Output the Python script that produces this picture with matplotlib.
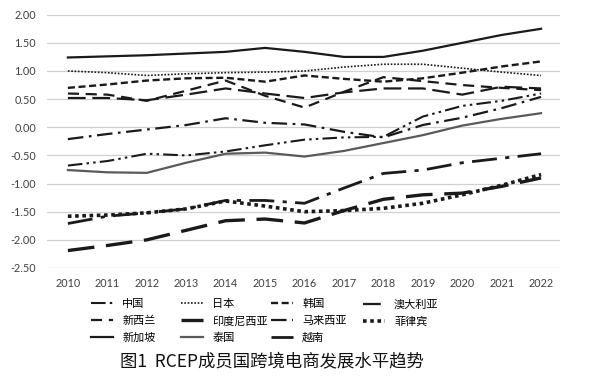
import matplotlib
matplotlib.use("Agg")
import matplotlib.pyplot as plt

plt.rcParams['font.family'] = ['Lato', 'Noto Sans CJK SC', 'DejaVu Sans']
plt.rcParams['axes.unicode_minus'] = False

years = list(range(2010, 2023))

# index values
china = [-0.68, -0.60, -0.47, -0.50, -0.43, -0.32, -0.22, -0.18, -0.17, 0.19, 0.38, 0.47, 0.60]
japan = [1.00, 0.97, 0.92, 0.95, 0.97, 0.98, 1.00, 1.07, 1.12, 1.12, 1.05, 0.98, 0.92]
korea = [0.70, 0.76, 0.83, 0.87, 0.88, 0.81, 0.92, 0.86, 0.81, 0.87, 0.97, 1.08, 1.17]
australia = [0.52, 0.52, 0.48, 0.58, 0.69, 0.60, 0.52, 0.62, 0.69, 0.69, 0.58, 0.72, 0.69]
new_zealand = [0.60, 0.58, 0.47, 0.65, 0.83, 0.56, 0.35, 0.63, 0.89, 0.82, 0.75, 0.70, 0.66]
indonesia = [-2.19, -2.10, -2.00, -1.83, -1.66, -1.63, -1.70, -1.48, -1.28, -1.20, -1.17, -1.05, -0.90]
malaysia = [-0.21, -0.12, -0.04, 0.04, 0.16, 0.08, 0.05, -0.08, -0.18, 0.04, 0.17, 0.34, 0.54]
philippines = [-1.58, -1.56, -1.52, -1.45, -1.31, -1.40, -1.50, -1.48, -1.44, -1.35, -1.20, -1.03, -0.84]
singapore = [1.24, 1.26, 1.28, 1.31, 1.34, 1.41, 1.34, 1.25, 1.25, 1.36, 1.50, 1.64, 1.75]
thailand = [-0.76, -0.80, -0.81, -0.63, -0.47, -0.45, -0.52, -0.42, -0.28, -0.14, 0.03, 0.15, 0.25]
vietnam = [-1.71, -1.58, -1.52, -1.45, -1.30, -1.30, -1.35, -1.08, -0.82, -0.76, -0.63, -0.55, -0.47]

y_ticks = [2.0, 1.5, 1.0, 0.5, 0.0, -0.5, -1.0, -1.5, -2.0, -2.5]

fig = plt.figure(figsize=(6.10, 3.79), dpi=100)
ax = fig.add_axes([47 / 610, 1 - 268 / 379, 513 / 610, (268 - 14.7) / 379])

ink = '#1a1a1a'
series = [
    ('中国', china, dict(ls=(0, (7, 2, 1.2, 2, 1.2, 2)), lw=1.5, color=ink)),
    ('日本', japan, dict(ls=(0, (1, 1)), lw=1.2, color=ink)),
    ('韩国', korea, dict(ls=(0, (3, 1.5)), lw=1.7, color=ink)),
    ('澳大利亚', australia, dict(ls=(0, (8, 3)), lw=1.6, color=ink)),
    ('新西兰', new_zealand, dict(ls=(0, (5, 3)), lw=1.6, color=ink)),
    ('印度尼西亚', indonesia, dict(ls=(0, (8, 3.5)), lw=2.4, color=ink)),
    ('马来西亚', malaysia, dict(ls=(0, (7, 2.5, 1.2, 2.5)), lw=1.6, color=ink)),
    ('菲律宾', philippines, dict(ls=(0, (1, 1)), lw=2.6, color=ink)),
    ('新加坡', singapore, dict(ls='-', lw=1.6, color=ink)),
    ('泰国', thailand, dict(ls='-', lw=1.6, color='#5a5a5a')),
    ('越南', vietnam, dict(ls=(0, (9, 3, 1.5, 3)), lw=2.0, color=ink)),
]

handles = {}
for name, vals, style in series:
    line, = ax.plot(years, vals, label=name, **style)
    handles[name] = line

ax.set_xlim(2009.47, 2022.48)
ax.set_ylim(-2.5, 2.0)
ax.set_xticks(years)
ax.set_yticks(y_ticks)
ax.set_yticklabels([f'{v:.2f}' for v in y_ticks])
ax.tick_params(axis='both', length=0, labelsize=7.8, colors='#404040')
ax.tick_params(axis='y', pad=8)
ax.tick_params(axis='x', pad=7)
ax.grid(axis='y', color='#d0d0d0', lw=0.9)
ax.set_axisbelow(True)
for sp in ax.spines.values():
    sp.set_visible(False)

# legend laid out as a fixed 4-column grid
columns = [
    ['中国', '新西兰', '新加坡'],
    ['日本', '印度尼西亚', '泰国'],
    ['韩国', '马来西亚', '越南'],
    ['澳大利亚', '菲律宾'],
]
col_x = [91, 181, 271, 363]
for names, x in zip(columns, col_x):
    fig.legend([handles[n] for n in names], names, loc='upper left',
               bbox_to_anchor=(x / 610, 1 - 299 / 379), frameon=False,
               borderpad=0, borderaxespad=0, handlelength=2.0, handletextpad=0.8,
               labelspacing=0.6, prop={'family': ['Noto Sans CJK SC'], 'size': 8})

fig.text(272 / 610, 1 - 362 / 379, '图1  RCEP成员国跨境电商发展水平趋势',
         ha='center', va='center', fontsize=12.5, color='#111111',
         family=['Noto Sans CJK SC', 'DejaVu Sans'])

fig.savefig('out.png', dpi=100)
